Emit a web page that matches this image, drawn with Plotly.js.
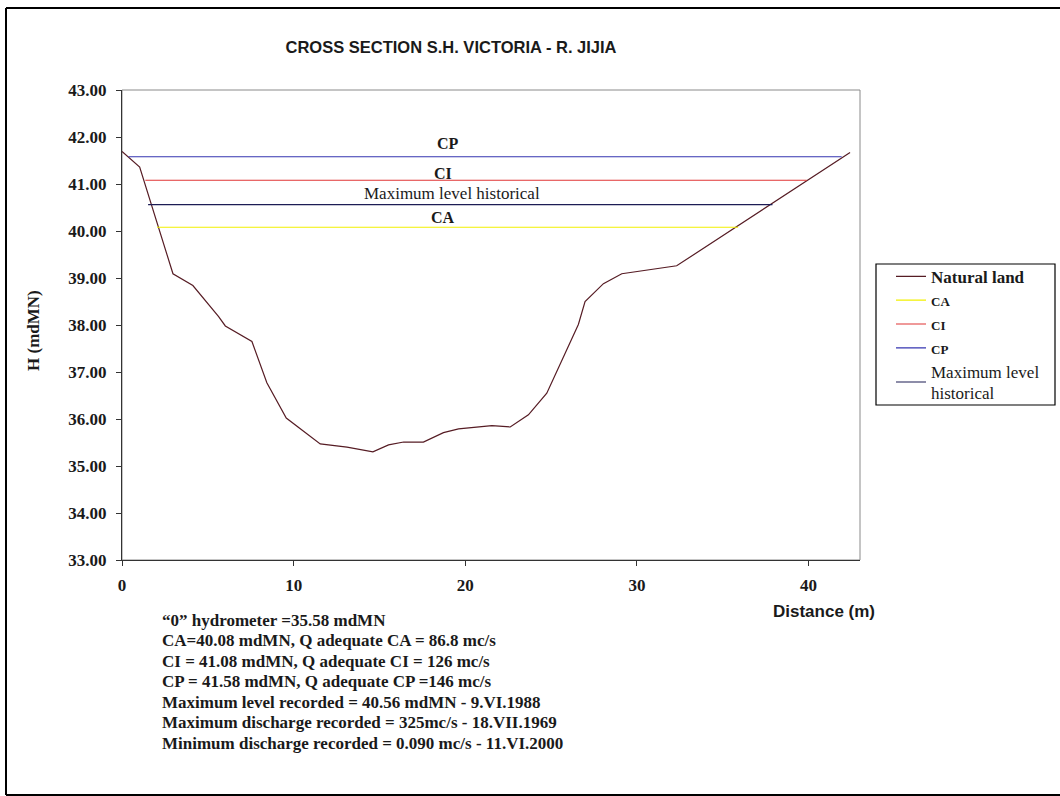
<!DOCTYPE html>
<html>
<head>
<meta charset="utf-8">
<script src="https://cdn.plot.ly/plotly-3.0.1.min.js"></script>
<style>
  html, body { margin: 0; padding: 0; background: #fff; }
  #chart { width: 1060px; height: 796px; }
</style>
</head>
<body>
<div id="chart"></div>
<script>
// ---- Data ----
const distance = [0, 1.03, 2.97, 4.13, 5.63, 6.02, 7.57, 8.44, 9.57, 11.55, 13.11, 14.62, 15.53, 16.41, 17.56, 18.73, 19.61, 21.55, 22.62, 23.68, 24.75, 26.59, 26.98, 28.05, 29.12, 32.32, 42.42];
const elevation = [41.69, 41.36, 39.09, 38.84, 38.18, 37.98, 37.65, 36.77, 36.02, 35.47, 35.40, 35.30, 35.45, 35.51, 35.51, 35.71, 35.79, 35.86, 35.83, 36.09, 36.55, 38.01, 38.50, 38.88, 39.09, 39.26, 41.67];

const levelNames  = ['CA', 'CI', 'CP', 'Maximum level historical'];
const levelValues = [40.08, 41.08, 41.58, 40.56];
const levelStart  = [2.04, 1.36, 0.38, 1.52];
const levelEnd    = [35.9, 39.9, 41.93, 37.9];

const legendLabels = [
  '<b><span style="font-size:17px">Natural land</span></b>',
  '<b><span style="font-size:13px">CA</span></b>',
  '<b><span style="font-size:13px">CI</span></b>',
  '<b><span style="font-size:13px">CP</span></b>',
  '<span style="font-size:17px">Maximum level</span><br><span style="font-size:17px">historical</span>'
];

const levelLabelText = ['<b>CA</b>', '<b>CI</b>', '<b>CP</b>', 'Maximum level historical'];
const levelLabelX    = [18.71, 18.71, 18.97, 19.24];
const levelLabelY    = [40.28, 41.22, 41.86, 40.79];

const yTickVals = [33, 34, 35, 36, 37, 38, 39, 40, 41, 42, 43];
const xTickVals = [0, 10, 20, 30, 40];

const noteLines = [
  '\u201C0\u201D hydrometer =35.58 mdMN',
  'CA=40.08 mdMN, Q adequate CA = 86.8 mc/s',
  'CI = 41.08 mdMN, Q adequate CI = 126 mc/s',
  'CP = 41.58 mdMN, Q adequate CP =146 mc/s',
  'Maximum level recorded = 40.56 mdMN - 9.VI.1988',
  'Maximum discharge recorded = 325mc/s - 18.VII.1969',
  'Minimum discharge recorded = 0.090 mc/s - 11.VI.2000'
];

// ---- Styles ----
const W = 1060, H = 796;
const M = { l: 122, r: 200, t: 90, b: 236 };
const PW = W - M.l - M.r, PH = H - M.t - M.b;
const px2x = px => (px - M.l) / PW;
const py2y = py => 1 - (py - M.t) / PH;

const serif = 'Liberation Serif, Times New Roman, serif';
const sans = 'Liberation Sans, Arial, sans-serif';
const ink = '#1a1a1a';
const levelColors = ['#f2f000', '#e03535', '#3535b0', '#1c1c55'];
const landColor = '#561c24';

const traces = [{
  type: 'scatter', mode: 'lines', name: legendLabels[0],
  x: distance, y: elevation,
  line: { color: landColor, width: 1.2 }
}];
levelNames.forEach((n, i) => {
  traces.push({
    type: 'scatter', mode: 'lines', name: legendLabels[i + 1],
    x: [levelStart[i], levelEnd[i]], y: [levelValues[i], levelValues[i]],
    line: { color: levelColors[i], width: 1.2 }
  });
});

const annotations = [];
levelLabelText.forEach((t, i) => {
  annotations.push({
    xref: 'x', yref: 'y', x: levelLabelX[i], y: levelLabelY[i],
    text: t, showarrow: false, xanchor: 'center', yanchor: 'middle',
    font: { family: serif, size: i === 3 ? 17 : 16, color: ink }
  });
});
annotations.push({
  xref: 'paper', yref: 'paper', x: px2x(33), y: py2y(331),
  text: '<b>H (mdMN)</b>', textangle: -90, showarrow: false,
  xanchor: 'center', yanchor: 'middle',
  font: { family: serif, size: 17, color: ink }
});
annotations.push({
  xref: 'paper', yref: 'paper', x: px2x(824), y: py2y(611.7),
  text: '<b>Distance (m)</b>', showarrow: false,
  xanchor: 'center', yanchor: 'middle',
  font: { family: sans, size: 17, color: ink }
});
noteLines.forEach((t, i) => {
  annotations.push({
    xref: 'paper', yref: 'paper', x: px2x(160), y: py2y(620 + i * 20.55),
    text: '<b>' + t + '</b>', showarrow: false,
    xanchor: 'left', yanchor: 'middle',
    font: { family: serif, size: 17, color: ink }
  });
});

const frame = { color: '#000', width: 2 };
const layout = {
  width: W, height: H,
  margin: M,
  paper_bgcolor: '#fff', plot_bgcolor: '#fff',
  title: {
    text: '<b>CROSS SECTION S.H. VICTORIA - R. JIJIA</b>',
    xref: 'container', yref: 'container',
    x: 451 / W, y: 1 - 47 / H, xanchor: 'center', yanchor: 'middle',
    font: { family: sans, size: 16.5, color: ink }
  },
  xaxis: {
    range: [0, 43], tickvals: xTickVals, ticktext: xTickVals.map(v => '<b>' + v + '</b>'),
    showgrid: false, zeroline: false,
    showline: true, linecolor: '#333', linewidth: 1,
    ticks: 'outside', ticklen: 5, tickcolor: '#333',
    ticklabelstandoff: 5,
    tickfont: { family: serif, size: 17, color: ink }
  },
  yaxis: {
    range: [33, 43], tickvals: yTickVals, ticktext: yTickVals.map(v => '<b>' + v.toFixed(2) + '</b>'),
    showgrid: false, zeroline: false,
    showline: true, linecolor: '#333', linewidth: 1,
    ticks: 'outside', ticklen: 5, tickcolor: '#333',
    ticklabelstandoff: 6,
    tickfont: { family: serif, size: 17, color: ink }
  },
  showlegend: true,
  legend: {
    x: px2x(891), y: py2y(259.5), xanchor: 'left', yanchor: 'top',
    bgcolor: 'rgba(0,0,0,0)', borderwidth: 0,
    font: { family: serif, size: 16, color: ink },
    itemwidth: 30, tracegroupgap: 0, traceorder: 'normal'
  },
  shapes: [
    { type: 'rect', xref: 'x domain', yref: 'y domain', x0: 0, x1: 1, y0: 0, y1: 1,
      line: { color: '#8a8a8a', width: 1 }, layer: 'below' },
    { type: 'rect', xref: 'paper', yref: 'paper',
      x0: px2x(876), x1: px2x(1055), y0: py2y(405), y1: py2y(264),
      line: { color: '#000', width: 1.2 }, fillcolor: '#fff', layer: 'below' },
    { type: 'line', xref: 'paper', yref: 'paper', x0: px2x(6), x1: px2x(6), y0: py2y(795), y1: py2y(8), line: frame, layer: 'below' },
    { type: 'line', xref: 'paper', yref: 'paper', x0: px2x(6), x1: px2x(1060), y0: py2y(8), y1: py2y(8), line: frame, layer: 'below' },
    { type: 'line', xref: 'paper', yref: 'paper', x0: px2x(6), x1: px2x(1060), y0: py2y(795), y1: py2y(795), line: frame, layer: 'below' }
  ],
  annotations: annotations
};

Plotly.newPlot('chart', traces, layout, { staticPlot: true, displayModeBar: false });
</script>
</body>
</html>
